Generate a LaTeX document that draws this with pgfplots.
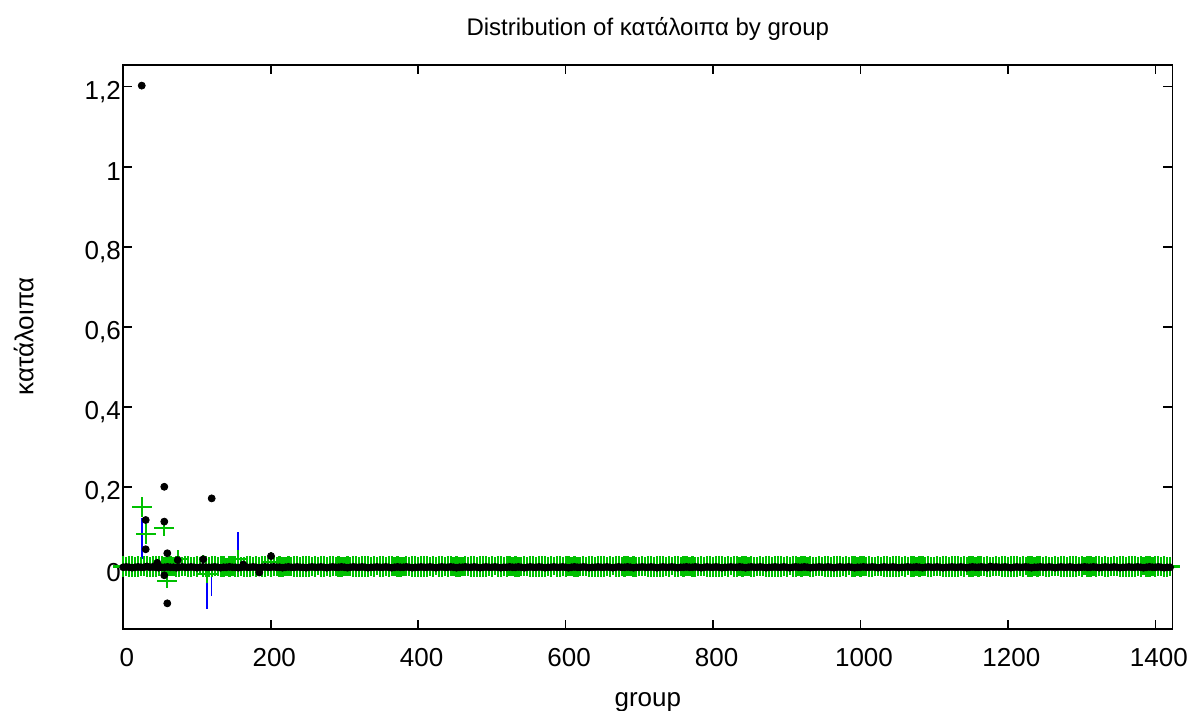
\documentclass[border=0pt]{standalone}
\usepackage{pgfplots}
\usepackage{pgfplotstable}
\pgfplotsset{compat=1.18}
\usepackage{fontspec}
\setmainfont{Liberation Sans}
\definecolor{webgreen}{RGB}{0,192,0}

\pgfplotstableread[row sep=\\]{
x p m e\\
0 0 0.002 0.025\\4 0.001 0.002 0.024\\8 0 0.003 0.026\\12 -0.001 0.002 0.025\\16 0 0.001 0.024\\20 0.001 0.002 0.025\\24 0 0.002 0.023\\28 0 0.003 0.025\\32 0.002 0.002 0.026\\36 0 0.001 0.024\\
40 0.001 0.002 0.025\\44 0 0.002 0.025\\48 -0.001 0.003 0.024\\52 0 0.002 0.026\\56 0 0.001 0.025\\60 0.001 0.002 0.023\\64 0 0.003 0.025\\68 0 0.002 0.024\\72 -0.001 0.002 0.026\\76 0 0.002 0.025\\
80 0.001 0.002 0.024\\84 0 0.003 0.025\\88 0 0.002 0.026\\92 0.001 0.001 0.025\\96 0 0.002 0.024\\100 -0.001 0.002 0.025\\104 0 0.003 0.023\\108 0.001 0.002 0.025\\112 0 0.002 0.026\\116 0 0.001 0.024\\
120 0 0.002 0.025\\124 0.001 0.003 0.025\\128 0 0.002 0.024\\132 -0.001 0.002 0.026\\136 0 0.002 0.025\\140 0 0.001 0.023\\144 0.001 0.002 0.025\\148 0 0.003 0.024\\152 0 0.002 0.026\\156 -0.001 0.002 0.025\\
160 0 0.002 0.024\\164 0.001 0.001 0.025\\168 0 0.003 0.026\\172 0 0.002 0.025\\176 0.001 0.002 0.024\\180 0 0.002 0.025\\184 -0.001 0.003 0.023\\188 0 0.002 0.025\\192 0.001 0.001 0.026\\196 0 0.002 0.024\\
200 0 0.002 0.025\\204 0.001 0.003 0.025\\208 0 0.002 0.024\\212 0 0.002 0.026\\216 -0.001 0.001 0.025\\220 0 0.002 0.023\\224 0.001 0.003 0.025\\228 0 0.002 0.024\\232 0 0.002 0.026\\236 0.001 0.002 0.025\\
240 0 0.001 0.024\\244 0 0.002 0.025\\248 -0.001 0.003 0.026\\252 0 0.002 0.025\\256 0.001 0.002 0.024\\260 0 0.002 0.025\\264 0 0.003 0.023\\268 0.001 0.002 0.025\\272 0 0.001 0.026\\276 -0.001 0.002 0.024\\
280 0 0.002 0.025\\284 0.001 0.003 0.025\\288 0 0.002 0.024\\292 0 0.002 0.026\\296 0.001 0.001 0.025\\300 0 0.002 0.023\\304 -0.001 0.003 0.025\\308 0 0.002 0.024\\312 0.001 0.002 0.026\\316 0 0.002 0.025\\
320 0 0.001 0.024\\324 0.001 0.002 0.025\\328 0 0.003 0.026\\332 -0.001 0.002 0.025\\336 0 0.002 0.024\\340 0 0.002 0.025\\344 0.001 0.003 0.023\\348 0 0.002 0.025\\352 0 0.001 0.026\\356 0.001 0.002 0.024\\
360 0 0.002 0.025\\364 -0.001 0.003 0.025\\368 0 0.002 0.024\\372 0.001 0.002 0.026\\376 0 0.001 0.025\\380 0 0.002 0.023\\384 0.001 0.003 0.025\\388 0 0.002 0.024\\392 -0.001 0.002 0.026\\396 0 0.002 0.025\\
400 0 0.001 0.024\\404 0.001 0.002 0.025\\408 0 0.003 0.026\\412 0 0.002 0.025\\416 0.001 0.002 0.024\\420 0 0.002 0.025\\424 -0.001 0.003 0.023\\428 0 0.002 0.025\\432 0.001 0.001 0.026\\436 0 0.002 0.024\\
440 0 0.002 0.025\\444 0.001 0.003 0.025\\448 0 0.002 0.024\\452 -0.001 0.002 0.026\\456 0 0.001 0.025\\460 0 0.002 0.023\\464 0.001 0.003 0.025\\468 0 0.002 0.024\\472 0 0.002 0.026\\476 0.001 0.002 0.025\\
480 0 0.001 0.024\\484 -0.001 0.002 0.025\\488 0 0.003 0.026\\492 0.001 0.002 0.025\\496 0 0.002 0.024\\500 0 0.002 0.025\\504 0.001 0.003 0.023\\508 0 0.002 0.025\\512 -0.001 0.001 0.026\\516 0 0.002 0.024\\
520 0 0.002 0.025\\524 0.001 0.003 0.025\\528 0 0.002 0.024\\532 0 0.002 0.026\\536 0.001 0.001 0.025\\540 0 0.002 0.023\\544 -0.001 0.003 0.025\\548 0 0.002 0.024\\552 0.001 0.002 0.026\\556 0 0.002 0.025\\
560 0 0.001 0.024\\564 0.001 0.002 0.025\\568 0 0.003 0.026\\572 -0.001 0.002 0.025\\576 0 0.002 0.024\\580 0 0.002 0.025\\584 0.001 0.003 0.023\\588 0 0.002 0.025\\592 0 0.001 0.026\\596 0.001 0.002 0.024\\
600 0 0.002 0.025\\604 -0.001 0.003 0.025\\608 0 0.002 0.024\\612 0.001 0.002 0.026\\616 0 0.001 0.025\\620 0 0.002 0.023\\624 0.001 0.003 0.025\\628 0 0.002 0.024\\632 -0.001 0.002 0.026\\636 0 0.002 0.025\\
640 0 0.001 0.024\\644 0.001 0.002 0.025\\648 0 0.003 0.026\\652 0 0.002 0.025\\656 0.001 0.002 0.024\\660 0 0.002 0.025\\664 -0.001 0.003 0.023\\668 0 0.002 0.025\\672 0.001 0.001 0.026\\676 0 0.002 0.024\\
680 0 0.002 0.025\\684 0.001 0.003 0.025\\688 0 0.002 0.024\\692 -0.001 0.002 0.026\\696 0 0.001 0.025\\700 0 0.002 0.023\\704 0.001 0.003 0.025\\708 0 0.002 0.024\\712 0 0.002 0.026\\716 0.001 0.002 0.025\\
720 0 0.001 0.024\\724 -0.001 0.002 0.025\\728 0 0.003 0.026\\732 0.001 0.002 0.025\\736 0 0.002 0.024\\740 0 0.002 0.025\\744 0.001 0.003 0.023\\748 0 0.002 0.025\\752 -0.001 0.001 0.026\\756 0 0.002 0.024\\
760 0 0.002 0.025\\764 0.001 0.003 0.025\\768 0 0.002 0.024\\772 0 0.002 0.026\\776 0.001 0.001 0.025\\780 0 0.002 0.023\\784 -0.001 0.003 0.025\\788 0 0.002 0.024\\792 0.001 0.002 0.026\\796 0 0.002 0.025\\
800 0 0.001 0.024\\804 0.001 0.002 0.025\\808 0 0.003 0.026\\812 -0.001 0.002 0.025\\816 0 0.002 0.024\\820 0 0.002 0.025\\824 0.001 0.003 0.023\\828 0 0.002 0.025\\832 0 0.001 0.026\\836 0.001 0.002 0.024\\
840 0 0.002 0.025\\844 -0.001 0.003 0.025\\848 0 0.002 0.024\\852 0.001 0.002 0.026\\856 0 0.001 0.025\\860 0 0.002 0.023\\864 0.001 0.003 0.025\\868 0 0.002 0.024\\872 -0.001 0.002 0.026\\876 0 0.002 0.025\\
880 0 0.001 0.024\\884 0.001 0.002 0.025\\888 0 0.003 0.026\\892 0 0.002 0.025\\896 0.001 0.002 0.024\\900 0 0.002 0.025\\904 -0.001 0.003 0.023\\908 0 0.002 0.025\\912 0.001 0.001 0.026\\916 0 0.002 0.024\\
920 0 0.002 0.025\\924 0.001 0.003 0.025\\928 0 0.002 0.024\\932 -0.001 0.002 0.026\\936 0 0.001 0.025\\940 0 0.002 0.023\\944 0.001 0.003 0.025\\948 0 0.002 0.024\\952 0 0.002 0.026\\956 0.001 0.002 0.025\\
960 0 0.001 0.024\\964 -0.001 0.002 0.025\\968 0 0.003 0.026\\972 0.001 0.002 0.025\\976 0 0.002 0.024\\980 0 0.002 0.025\\984 0.001 0.003 0.023\\988 0 0.002 0.025\\992 -0.001 0.001 0.026\\996 0 0.002 0.024\\
1000 0 0.002 0.025\\1004 0.001 0.003 0.025\\1008 0 0.002 0.024\\1012 0 0.002 0.026\\1016 0.001 0.001 0.025\\1020 0 0.002 0.023\\1024 -0.001 0.003 0.025\\1028 0 0.002 0.024\\1032 0.001 0.002 0.026\\1036 0 0.002 0.025\\
1040 0 0.001 0.024\\1044 0.001 0.002 0.025\\1048 0 0.003 0.026\\1052 -0.001 0.002 0.025\\1056 0 0.002 0.024\\1060 0 0.002 0.025\\1064 0.001 0.003 0.023\\1068 0 0.002 0.025\\1072 0 0.001 0.026\\1076 0.001 0.002 0.024\\
1080 0 0.002 0.025\\1084 -0.001 0.003 0.025\\1088 0 0.002 0.024\\1092 0.001 0.002 0.026\\1096 0 0.001 0.025\\1100 0 0.002 0.023\\1104 0.001 0.003 0.025\\1108 0 0.002 0.024\\1112 -0.001 0.002 0.026\\1116 0 0.002 0.025\\
1120 0 0.001 0.024\\1124 0.001 0.002 0.025\\1128 0 0.003 0.026\\1132 0 0.002 0.025\\1136 0.001 0.002 0.024\\1140 0 0.002 0.025\\1144 -0.001 0.003 0.023\\1148 0 0.002 0.025\\1152 0.001 0.001 0.026\\1156 0 0.002 0.024\\
1160 0 0.002 0.025\\1164 0.001 0.003 0.025\\1168 0 0.002 0.024\\1172 -0.001 0.002 0.026\\1176 0.002 0.001 0.025\\1180 0 0.002 0.023\\1184 0.001 0.003 0.025\\1188 0 0.002 0.024\\1192 0 0.002 0.026\\1196 0.001 0.002 0.025\\
1200 0 0.001 0.024\\1204 -0.001 0.002 0.025\\1208 0 0.003 0.026\\1212 0.001 0.002 0.025\\1216 0 0.002 0.024\\1220 0 0.002 0.025\\1224 0.001 0.003 0.023\\1228 0 0.002 0.025\\1232 -0.001 0.001 0.026\\1236 0 0.002 0.024\\
1240 0 0.002 0.025\\1244 0.001 0.003 0.025\\1248 0 0.002 0.024\\1252 0 0.002 0.026\\1256 0.001 0.001 0.025\\1260 0 0.002 0.023\\1264 -0.001 0.003 0.025\\1268 0 0.002 0.024\\1272 0.001 0.002 0.026\\1276 0 0.002 0.025\\
1280 0 0.001 0.024\\1284 0.001 0.002 0.025\\1288 0 0.003 0.026\\1292 -0.001 0.002 0.025\\1296 0 0.002 0.024\\1300 0 0.002 0.025\\1304 0.001 0.003 0.023\\1308 0 0.002 0.025\\1312 0 0.001 0.026\\1316 0.001 0.002 0.024\\
1320 0 0.002 0.025\\1324 -0.001 0.003 0.025\\1328 0 0.002 0.024\\1332 0.001 0.002 0.026\\1336 0 0.001 0.025\\1340 0 0.002 0.023\\1344 0.001 0.003 0.025\\1348 0 0.002 0.024\\1352 -0.001 0.002 0.026\\1356 0 0.002 0.025\\
1360 0 0.001 0.024\\1364 0.001 0.002 0.025\\1368 0 0.003 0.026\\1372 0 0.002 0.025\\1376 0.001 0.002 0.024\\1380 0 0.002 0.025\\1384 -0.001 0.003 0.023\\1388 0 0.002 0.025\\1392 0.001 0.001 0.026\\1396 0 0.002 0.024\\
1400 0 0.002 0.025\\1404 0.001 0.003 0.025\\1408 0 0.002 0.024\\1412 -0.001 0.002 0.026\\1416 0 0.001 0.025\\1420 0 0.002 0.024\\
}\bulk

\pgfplotstableread{
x m e
25 0.150 0.025
30.4 0.083 0.025
55.6 0.099 0.020
59.7 -0.033 0.019
73.8 0.020 0.023
108.5 0.006 0.024
113.2 -0.017 0.023
155.2 0.020 0.022
200.4 0.014 0.023
}\greenout

\pgfplotstableread{
x p
25 1.2025
30.4 0.118
30.4 0.045
46.1 0.011
55.6 0.201
55.6 0.114
55.6 -0.020
59.7 0.035
59.7 -0.090
73.8 0.018
108.5 0.020
119.9 0.172
162.8 0.007
184.5 -0.013
200.4 0.028
}\blackout

\begin{document}
\begin{tikzpicture}
\begin{axis}[
  scale only axis, width=524.5pt, height=282.15pt,
  xmin=0, xmax=1423, ymin=-0.1548, ymax=1.254,
  clip=false,
  axis line style={line width=0.8pt},
  every tick/.style={line width=0.8pt, black},
  major tick length=4.5pt,
  tick align=inside,
  xtick={0,200,400,600,800,1000,1200,1400},
  ytick={0,0.2,0.4,0.6,0.8,1,1.2},
  /pgf/number format/use comma,
  /pgf/number format/1000 sep={},
  /pgf/number format/assume math mode=true,
  tick label style={font=\fontsize{13}{15}\selectfont},
  xticklabel style={xshift=1.75pt, yshift=-6pt},
  yticklabel style={yshift=-2.6pt, xshift=2.3pt},
  title={Distribution of κατάλοιπα by group},
  title style={font=\fontsize{12}{14}\selectfont, at={(axis description cs:0.5,1)}, anchor=base, yshift=8.6pt},
  xlabel={group},
  xlabel style={font=\fontsize{13}{15}\selectfont, at={(axis description cs:0.5,0)}, anchor=base, yshift=-38.5pt},
  ylabel={κατάλοιπα},
  ylabel style={font=\fontsize{13}{15}\selectfont, at={(axis description cs:-0.095,0.519)}, anchor=center},
]
\addplot[blue, line width=0.8pt, forget plot] coordinates {(25,0.02) (25,0.124)};
\addplot[blue, line width=0.8pt, forget plot] coordinates {(113.2,-0.104) (113.2,-0.01)};
\addplot[blue, line width=0.8pt, forget plot] coordinates {(119.9,-0.072) (119.9,-0.01)};
\addplot[blue, line width=0.8pt, forget plot] coordinates {(155.2,0.01) (155.2,0.088)};

\addplot[webgreen, only marks, mark=*, mark size=0.3pt, forget plot,
  error bars/.cd, x dir=both, x fixed=13.6, y dir=both, y explicit, error mark=none,
  error bar style={color=webgreen, solid, line width=1.1pt}]
  table[x=x, y=m, y error=e] {\bulk};
\addplot[webgreen, only marks, mark=*, mark size=0.3pt, forget plot,
  error bars/.cd, x dir=both, x fixed=13.6, y dir=both, y explicit, error mark=none,
  error bar style={color=webgreen, solid, line width=1pt}]
  table[x=x, y=m, y error=e] {\greenout};

\addplot[only marks, mark=*, mark size=1.75pt, black, forget plot] table[x=x, y=p] {\bulk};
\addplot[only marks, mark=*, mark size=1.75pt, black, forget plot] table[x=x, y=p] {\blackout};
\end{axis}
\pgfresetboundingbox
\path (-61.65pt,-40.85pt) rectangle (532.85pt,314.65pt);
\end{tikzpicture}
\end{document}
